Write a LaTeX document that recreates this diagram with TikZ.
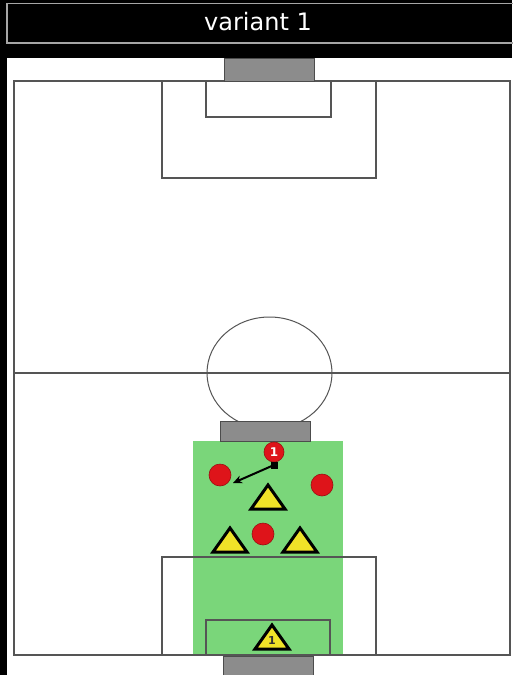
\documentclass[tikz,border=0pt]{standalone}
\usepackage{fontspec}
\setmainfont{DejaVu Sans}
\usetikzlibrary{arrows.meta,calc}
\definecolor{pitchgreen}{RGB}{122,214,122}
\definecolor{goalgray}{RGB}{140,140,140}
\definecolor{linegray}{RGB}{85,85,85}
\definecolor{playerred}{RGB}{222,20,26}
\definecolor{coneyellow}{RGB}{240,226,40}
\tikzset{
  fieldline/.style={draw=linegray, line width=1.2pt},
  goalbox/.style={fill=goalgray, draw=black!70, line width=1pt},
  player/.style={circle, fill=playerred, draw=playerred!70!black, line width=0.6pt, minimum size=22pt, inner sep=0pt},
  cone/.style={fill=coneyellow, draw=black, line width=3pt, line join=miter},
}
\newcommand{\drawcone}[2]{%
  \filldraw[cone] (#1,#2-12) -- (#1+17,#2+12) -- (#1-17,#2+12) -- cycle;}
\begin{document}
\begin{tikzpicture}[x=1pt,y=-1pt]
\useasboundingbox (0,0) rectangle (512,675);
\fill[black] (0,0) rectangle (512,675);
% title bar
\draw[draw=gray!70, line width=1.2pt] (7,3.5) rectangle (520,43);
\node[text=white, font=\fontsize{24}{24}\selectfont, anchor=center] (title) at (258,22) {variant 1};
% pitch background
\fill[white] (7,58) rectangle (512,675);
% green training zone
\fill[pitchgreen] (193,441) rectangle (343,655);
% outer field
\draw[fieldline] (14,81) rectangle (510,655);
% halfway line
\draw[fieldline] (14,373) -- (510,373);
% centre circle
\draw[fieldline, line width=1pt] (269.5,373) ellipse [x radius=62.5, y radius=56];
% top penalty area and goal area
\draw[fieldline] (162,81) -- (162,178) -- (376,178) -- (376,81);
\draw[fieldline] (206,81) -- (206,117) -- (331,117) -- (331,81);
% bottom penalty area and goal area
\draw[fieldline] (162,655) -- (162,557) -- (376,557) -- (376,655);
\draw[fieldline] (206,655) -- (206,620) -- (330,620) -- (330,655);
% goals
\filldraw[goalbox] (224,58) rectangle (314,81);
\filldraw[goalbox] (220,421) rectangle (310,441);
\filldraw[goalbox] (223,656) rectangle (313,676);
% cones
\drawcone{268}{497}
\drawcone{230}{540}
\drawcone{300}{540}
\drawcone{272}{637}
\node[text=black!80, font=\bfseries\fontsize{11}{11}\selectfont] (gk) at (272,640) {1};
% players
\node[player, minimum size=20pt, text=white, font=\bfseries\fontsize{12}{12}\selectfont] (p1) at (274,452) {1};
\node[player] (p2) at (220,475) {};
\node[player] (p3) at (322,485) {};
\node[player] (p4) at (263,534) {};
% pass arrow
\coordinate (pass) at (274,465);
\coordinate (target) at (233,483);
\fill[black] ($(pass)+(-3.5,-3.5)$) rectangle ($(pass)+(3.5,3.5)$);
\draw[black, line width=2pt, -{Stealth[length=9pt,width=8pt]}] (pass) -- (target);
\end{tikzpicture}
\end{document}
